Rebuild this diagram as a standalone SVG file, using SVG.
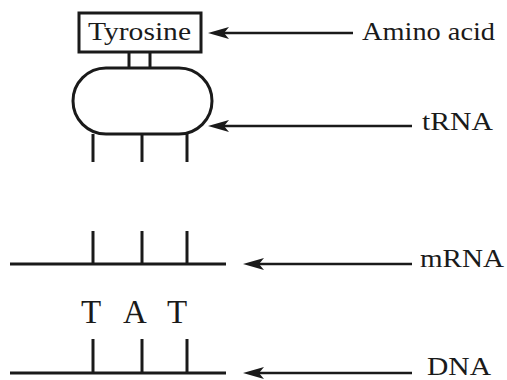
<svg xmlns="http://www.w3.org/2000/svg" width="507" height="380" viewBox="0 0 507 380">
<style>
.s{fill:none;stroke:#1a1a1a;stroke-width:3}
.a{fill:none;stroke:#1a1a1a;stroke-width:2.5}
.t{font-family:"Liberation Serif","Times New Roman",serif;fill:#1a1a1a}
</style>
<defs>
<marker id="ah" markerUnits="userSpaceOnUse" markerWidth="22" markerHeight="14" refX="12" refY="6" orient="auto" overflow="visible">
<path d="M0,0 L21,6 L0,12 L5,6 Z" fill="#1a1a1a"/>
</marker>
</defs>
<rect width="507" height="380" fill="#fff"/>
<g id="amino-acid">
<rect class="s" x="79" y="13" width="122" height="39"/>
<text class="t" x="88" y="40" font-size="26" textLength="103" lengthAdjust="spacingAndGlyphs">Tyrosine</text>
<line class="s" x1="129" y1="52" x2="129" y2="68"/>
<line class="s" x1="150" y1="52" x2="150" y2="68"/>
</g>
<g id="trna">
<rect class="s" x="73" y="68" width="139" height="66" rx="33" ry="33"/>
<line class="s" x1="93" y1="134" x2="93" y2="162"/>
<line class="s" x1="142" y1="134" x2="142" y2="162"/>
<line class="s" x1="187" y1="134" x2="187" y2="162"/>
</g>
<g id="mrna">
<line class="s" x1="10" y1="264" x2="226" y2="264"/>
<line class="s" x1="93" y1="231" x2="93" y2="264"/>
<line class="s" x1="142" y1="231" x2="142" y2="264"/>
<line class="s" x1="187" y1="231" x2="187" y2="264"/>
</g>
<g id="codon">
<text class="t" font-size="33" x="81 103 123 146 167" y="323">T A T</text>
</g>
<g id="dna">
<line class="s" x1="10" y1="373" x2="226" y2="373"/>
<line class="s" x1="93" y1="339" x2="93" y2="373"/>
<line class="s" x1="142" y1="339" x2="142" y2="373"/>
<line class="s" x1="187" y1="339" x2="187" y2="373"/>
</g>
<g id="labels">
<text class="t" x="362" y="40" font-size="26" textLength="133" lengthAdjust="spacingAndGlyphs">Amino acid</text>
<text class="t" x="422" y="130" font-size="26" textLength="71" lengthAdjust="spacingAndGlyphs">tRNA</text>
<text class="t" x="420" y="267" font-size="26" textLength="84" lengthAdjust="spacingAndGlyphs">mRNA</text>
<text class="t" x="427" y="375" font-size="25" textLength="64" lengthAdjust="spacingAndGlyphs">DNA</text>
</g>
<g id="connectors">
<line class="a" x1="353" y1="33" x2="217" y2="33" marker-end="url(#ah)"/>
<line class="a" x1="412" y1="126" x2="217" y2="126" marker-end="url(#ah)"/>
<line class="a" x1="412" y1="264" x2="252" y2="264" marker-end="url(#ah)"/>
<line class="a" x1="412" y1="373" x2="252" y2="373" marker-end="url(#ah)"/>
</g>
</svg>
